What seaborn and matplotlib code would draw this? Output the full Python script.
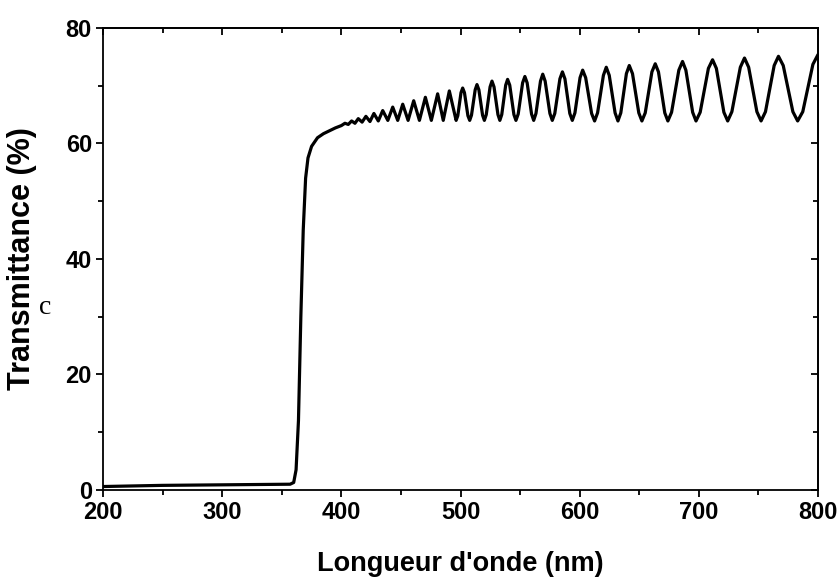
import matplotlib
matplotlib.use("Agg")
import matplotlib.pyplot as plt
import numpy as np
import pandas as pd
import seaborn as sns
from matplotlib.ticker import MultipleLocator

# * Baseline + absorption edge (nm, %)
edge_nm = [200, 250, 300, 357, 360, 362, 364, 366, 368, 370, 372, 375,
           380, 385, 390, 395, 400]
edge_T = [0.6, 0.8, 0.9, 1.0, 1.3, 3.5, 12, 30, 45, 54, 57.5, 59.5,
          61.0, 61.7, 62.2, 62.7, 63.1]

# * Interference fringes (nm, %)
fringe_nm = [403, 405.8, 408.6, 411.4, 414.2, 417.4, 420.6, 424.0, 427.3, 431.0,
             434.7, 439.0, 443.1, 447.3, 451.5, 456.0, 460.7, 465.5, 470.5, 475.5,
             480.8, 485.5, 490.6, 496.3, 497.7, 500.4, 501.8, 503.3, 506.2, 507.7,
             509.2, 512.3, 513.8, 515.4, 518.5, 520.0, 521.6, 524.8, 526.4, 528.1,
             531.4, 533.0, 534.6, 537.9, 539.5, 541.3, 544.8, 546.5, 548.4, 552.1,
             554.0, 555.9, 559.6, 561.4, 563.3, 567.1, 569.0, 571.0, 575.0, 577.0,
             579.1, 583.4, 585.5, 587.6, 591.7, 593.8, 596.0, 600.3, 602.5, 605.0,
             610.0, 612.5, 615.0, 619.9, 622.3, 624.8, 629.7, 632.1, 634.5, 639.2,
             641.6, 644.3, 649.6, 652.2, 655.0, 660.6, 663.4, 666.1, 671.4, 674.0,
             677.1, 683.2, 686.3, 689.1, 694.8, 697.6, 701.1, 708.0, 711.5, 714.7,
             721.0, 724.2, 727.7, 734.8, 738.3, 741.8, 748.7, 752.2, 755.9, 763.2,
             766.8, 770.8, 778.9, 782.9, 787.2, 795.7, 800.0]
fringe_T = [63.5, 63.3, 63.9, 63.5, 64.3, 63.7, 64.7, 63.8, 65.2, 63.9,
            65.7, 64.0, 66.3, 64.0, 66.8, 64.0, 67.4, 64.0, 68.0, 64.0,
            68.6, 64.0, 69.1, 64.0, 64.8, 68.8, 69.6, 68.8, 64.8, 64.0,
            64.9, 69.3, 70.2, 69.3, 64.9, 64.0, 65.0, 69.8, 70.8, 69.8,
            65.0, 64.0, 65.0, 70.1, 71.1, 70.1, 65.0, 64.0, 65.1, 70.5,
            71.6, 70.5, 65.1, 64.0, 65.2, 70.8, 72.0, 70.8, 65.2, 64.0,
            65.2, 71.2, 72.4, 71.2, 65.2, 64.0, 65.3, 71.4, 72.7, 71.4,
            65.2, 63.9, 65.3, 71.8, 73.2, 71.8, 65.3, 63.9, 65.3, 72.1,
            73.5, 72.1, 65.3, 63.9, 65.3, 72.4, 73.8, 72.4, 65.3, 63.9,
            65.4, 72.7, 74.2, 72.7, 65.4, 63.9, 65.4, 73.0, 74.5, 73.0,
            65.4, 63.9, 65.5, 73.2, 74.8, 73.2, 65.5, 63.9, 65.5, 73.5,
            75.1, 73.5, 65.5, 63.9, 65.5, 73.7, 75.4]

df = pd.DataFrame({"nm": edge_nm + fringe_nm, "T": edge_T + fringe_T})

sns.set_style("ticks")
plt.rcParams["font.family"] = ["Liberation Sans", "DejaVu Sans"]
plt.rcParams.update({"text.color": "black", "axes.labelcolor": "black",
                     "xtick.color": "black", "ytick.color": "black",
                     "axes.edgecolor": "black"})

fig = plt.figure(figsize=(8.39, 5.77), dpi=100)
ax = fig.add_axes([0.1228, 0.1508, 0.8522, 0.8007])

sns.lineplot(data=df, x="nm", y="T", ax=ax, color="black", linewidth=2.3,
             sort=False, estimator=None)

ax.set_xlim(200, 800)
ax.set_ylim(0, 80)
ax.xaxis.set_major_locator(MultipleLocator(100))
ax.xaxis.set_minor_locator(MultipleLocator(50))
ax.yaxis.set_major_locator(MultipleLocator(20))
ax.yaxis.set_minor_locator(MultipleLocator(10))

for side in ["top", "right", "bottom", "left"]:
    ax.spines[side].set_visible(True)
    ax.spines[side].set_linewidth(1.3)

ax.tick_params(which="major", direction="out", length=5, width=1.3,
               labelsize=17, pad=3)
ax.tick_params(which="minor", direction="out", length=3.5, width=1.3)
for lab in ax.get_xticklabels() + ax.get_yticklabels():
    lab.set_fontweight("bold")

# * Inward ticks on top and right
top = ax.secondary_xaxis("top")
top.xaxis.set_major_locator(MultipleLocator(100))
top.xaxis.set_minor_locator(MultipleLocator(50))
top.tick_params(which="major", direction="in", length=5, width=1.3, labeltop=False)
top.tick_params(which="minor", direction="in", length=3.5, width=1.3)
top.spines["top"].set_linewidth(1.3)
right = ax.secondary_yaxis("right")
right.yaxis.set_major_locator(MultipleLocator(20))
right.yaxis.set_minor_locator(MultipleLocator(10))
right.tick_params(which="major", direction="in", length=5, width=1.3, labelright=False)
right.tick_params(which="minor", direction="in", length=3.5, width=1.3)
right.spines["right"].set_linewidth(1.3)

ax.set_xlabel("Longueur d'onde (nm)", fontsize=19.5, fontweight="bold")
ax.set_ylabel("Transmittance (%)", fontsize=22, fontweight="bold")
ax.xaxis.set_label_coords(0.5, -0.132)
ax.yaxis.set_label_coords(-0.093, 0.5)

fig.text(45 / 839, 1 - 308 / 577, "c", family="Liberation Serif", fontsize=20,
         ha="center", va="center")

fig.savefig("out.png", dpi=100)
